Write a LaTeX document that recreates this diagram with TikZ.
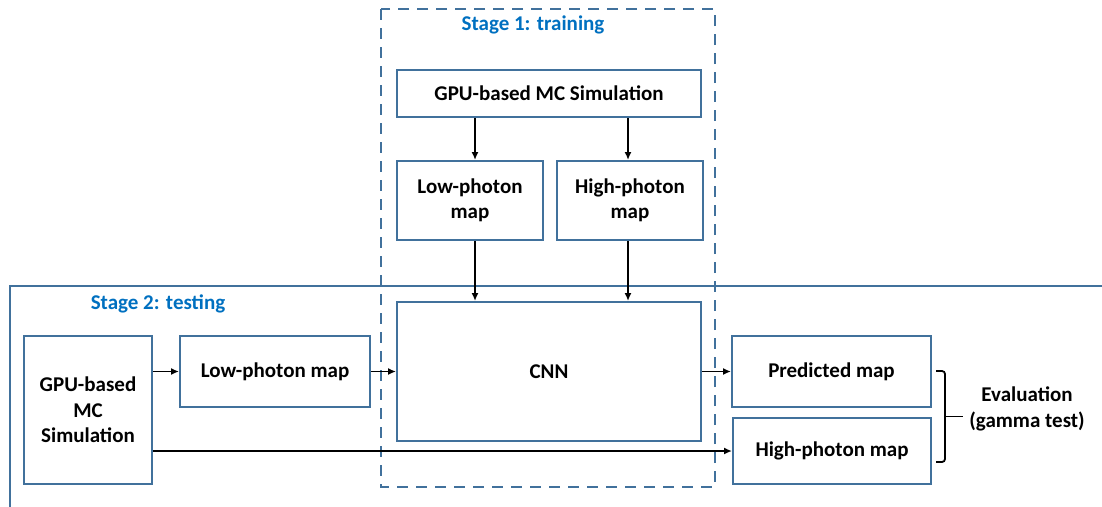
\documentclass[tikz,border=0pt]{standalone}
\usepackage{fontspec}
\setmainfont{Carlito}
\usetikzlibrary{arrows.meta}
\definecolor{boxblue}{RGB}{65,113,156}
\definecolor{titleblue}{RGB}{0,112,192}
\tikzset{
  box/.style={draw=boxblue, line width=2pt, fill=white, inner sep=2pt, align=center, font=\fontsize{21}{25.5}\selectfont\bfseries},
  arr/.style={draw=black, line width=1.6pt, -{Latex[length=8pt,width=7pt]}},
  stagetitle/.style={text=titleblue, font=\fontsize{21}{25.5}\selectfont\bfseries},
  plain/.style={font=\fontsize{21}{25.5}\selectfont\bfseries, align=center}
}
\begin{document}
\begin{tikzpicture}[x=1pt,y=-1pt]
\useasboundingbox (0,0) rectangle (1102,506);
% stage 2 frame
\draw[boxblue, line width=2.2pt] (10,510) -- (10,286) -- (1106,286);
% stage 1 dashed frame
\draw[boxblue, line width=2.4pt, dash pattern=on 11pt off 8pt] (381,9) rectangle (715,487);
\node[stagetitle] (s1) at (533,25) {Stage 1: training};
\node[stagetitle] (s2) at (158,304) {Stage 2: testing};
% stage 1 boxes
\node[box, minimum width=304, minimum height=47] (gpu1) at (549,93.5) {GPU-based MC Simulation};
\node[box, minimum width=146, minimum height=79] (low1) at (470,200.5) {Low-photon\\map};
\node[box, minimum width=146, minimum height=79] (high1) at (630,200.5) {High-photon\\map};
\node[box, minimum width=304, minimum height=139] (cnn) at (549,371.5) {CNN};
% stage 2 boxes
\node[box, minimum width=128, minimum height=148] (gpu2) at (88,410) {GPU-based\\MC\\Simulation};
\node[box, minimum width=190, minimum height=71] (low2) at (275,371.5) {Low-photon map};
\node[box, minimum width=199, minimum height=71] (pred) at (831.5,371.5) {Predicted map};
\node[box, minimum width=198, minimum height=66] (high2) at (832,451) {High-photon map};
\node[plain] (eval) at (1027,409) {Evaluation\\(gamma test)};
% arrow columns
\coordinate (colA) at (475,0);
\coordinate (colB) at (628,0);
\draw[arr] (gpu1.south -| colA) -- (low1.north -| colA);
\draw[arr] (gpu1.south -| colB) -- (high1.north -| colB);
\draw[arr] (low1.south -| colA) -- (cnn.north -| colA);
\draw[arr] (high1.south -| colB) -- (cnn.north -| colB);
\draw[arr] (gpu2.east |- low2.west) -- (low2.west);
\draw[arr] (low2.east) -- (cnn.west);
\draw[arr] (cnn.east) -- (pred.west);
\draw[arr] (gpu2.east |- high2.west) -- (high2.west);
% bracket
\coordinate (bt) at (936,371);
\coordinate (bb) at (936,462);
\coordinate (bm) at (945,416.5);
\coordinate (bk) at (963,416.5);
\draw[black, line width=1.8pt, rounded corners=3pt] (bt) -- (945,371) -- (945,462) -- (bb);
\draw[black, line width=1.8pt] (bm) -- (bk);
\end{tikzpicture}
\end{document}
